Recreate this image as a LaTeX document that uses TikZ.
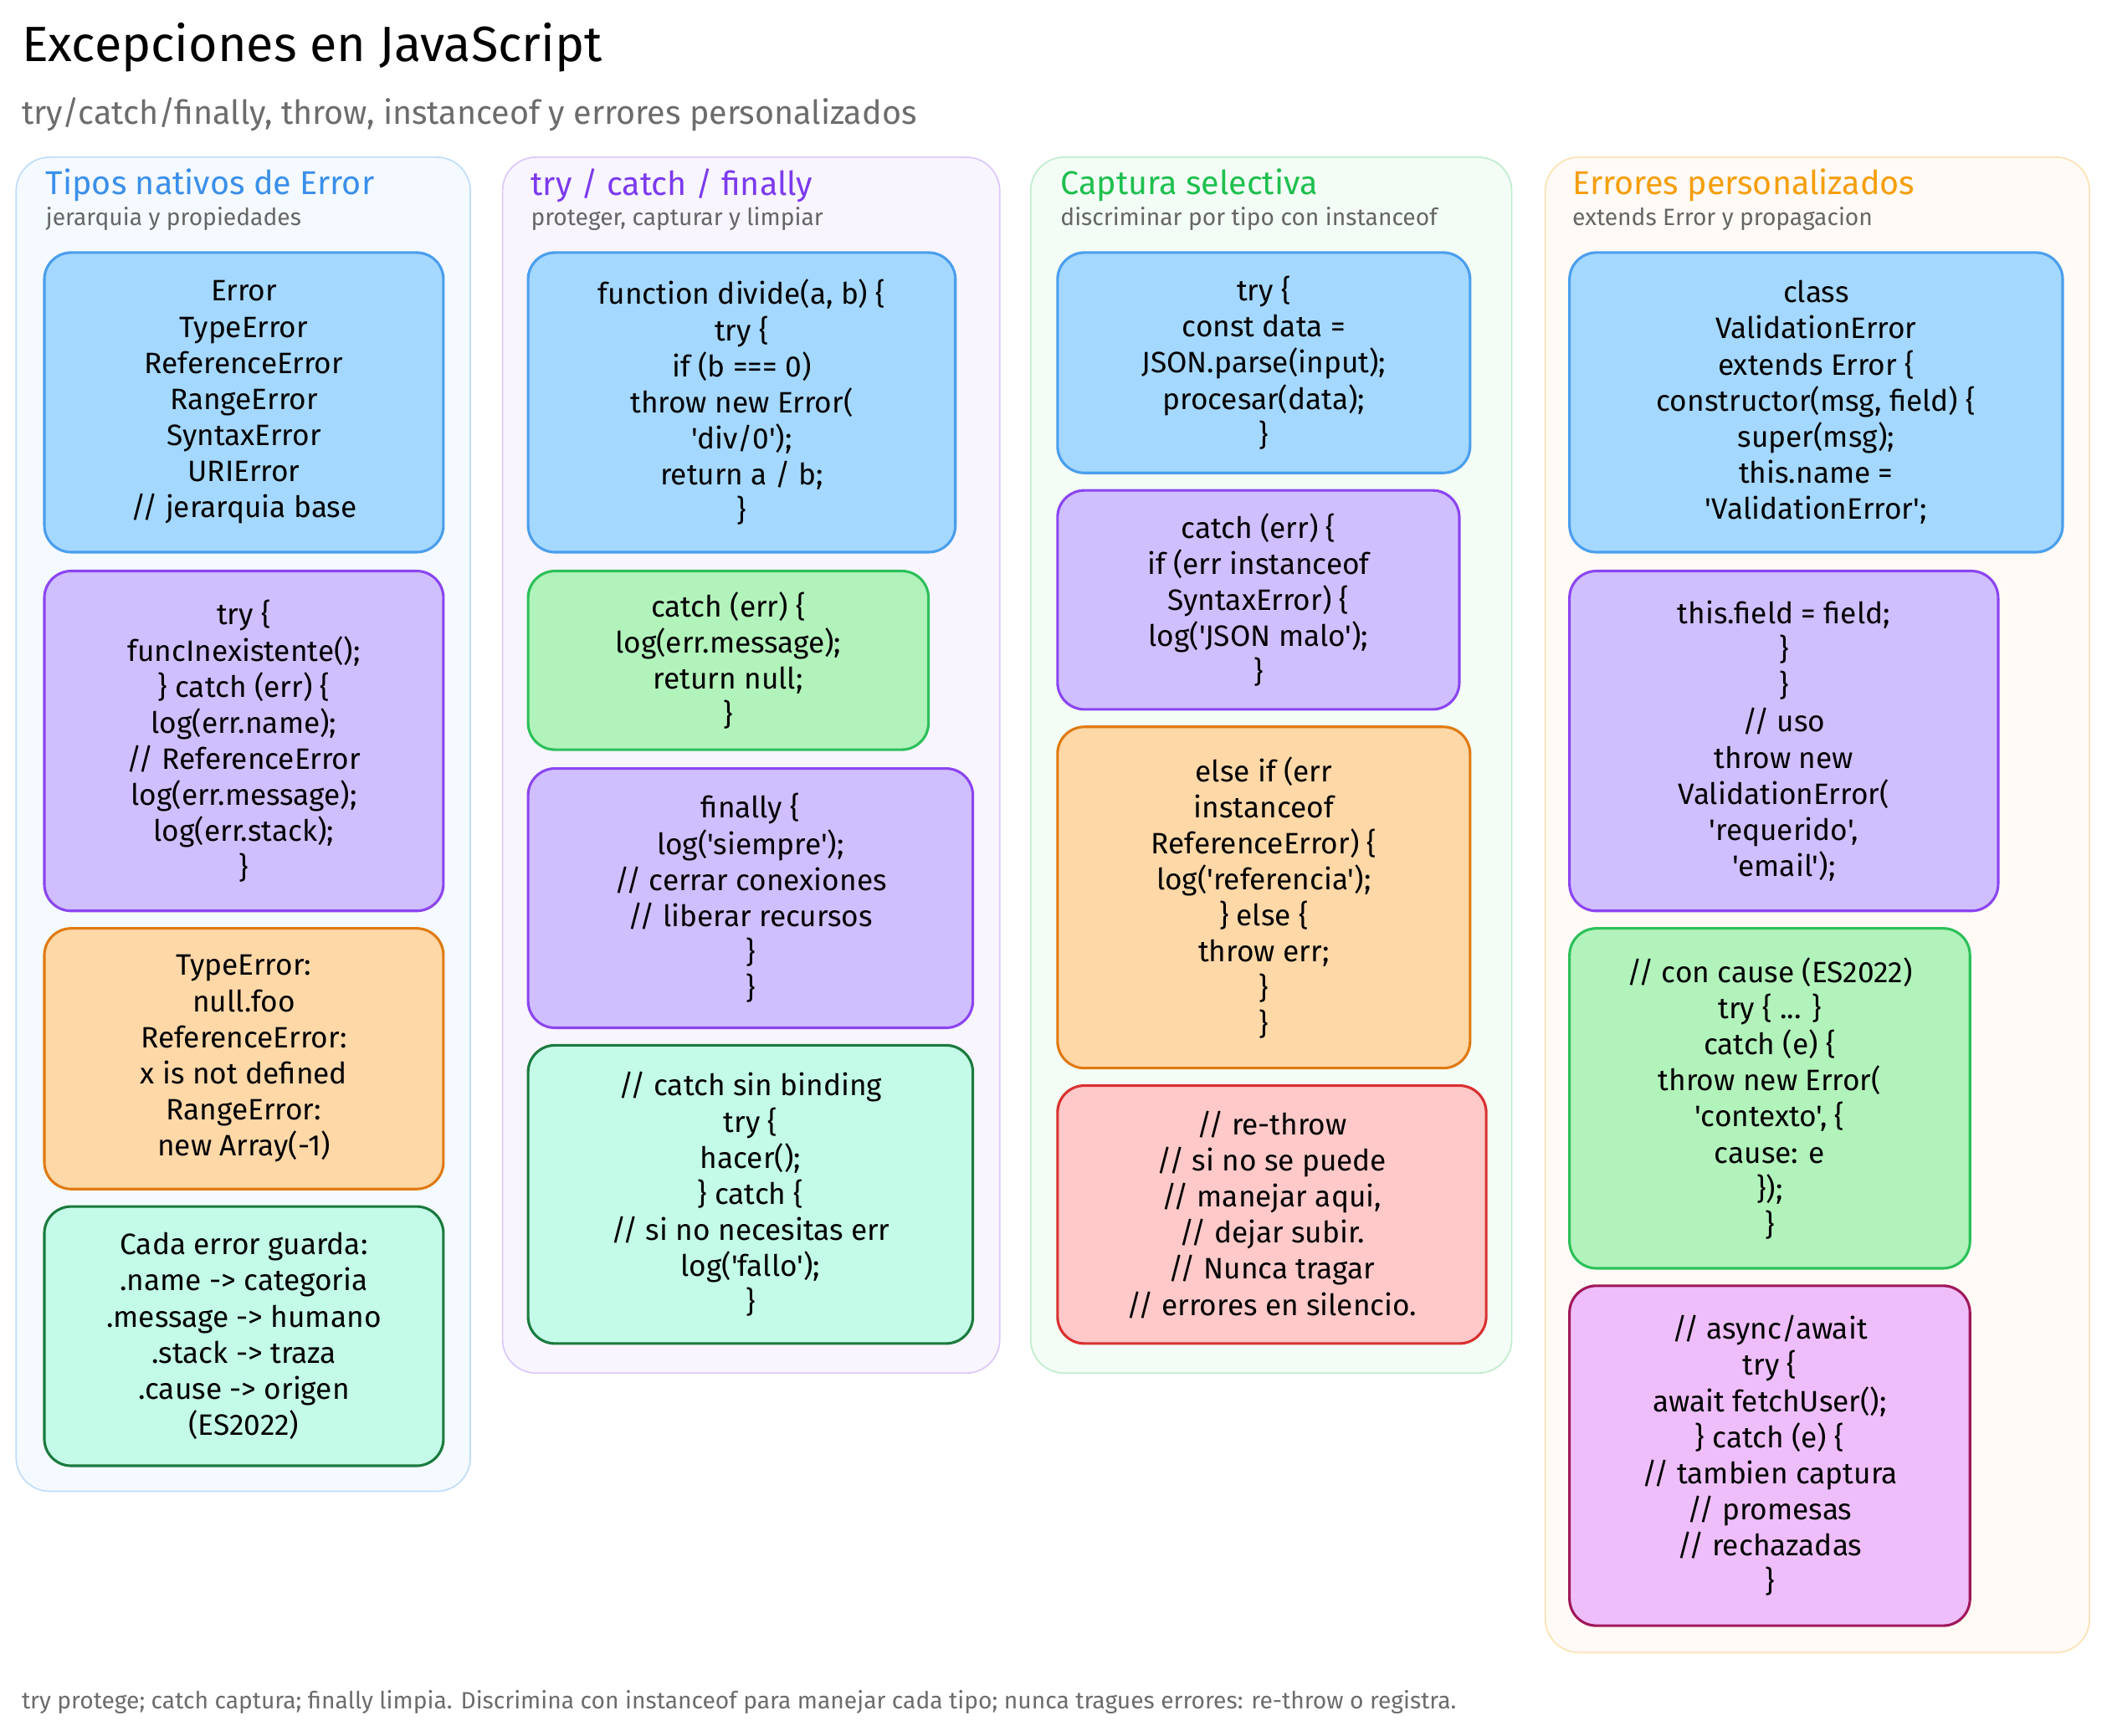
\documentclass[tikz,border=0pt]{standalone}
\usepackage{fontspec}
\setmainfont[Ligatures=TeXOff]{Fira Sans}
\definecolor{bluefill}{HTML}{A5D8FF}\definecolor{blueline}{HTML}{4A9EED}
\definecolor{purpfill}{HTML}{D0BFFF}\definecolor{purpline}{HTML}{8B45F0}
\definecolor{orfill}{HTML}{FFD8A8}\definecolor{orline}{HTML}{E07A10}
\definecolor{tealfill}{HTML}{C3FAE8}\definecolor{tealline}{HTML}{1B7A3E}
\definecolor{grfill}{HTML}{B2F2BB}\definecolor{grline}{HTML}{2CC05A}
\definecolor{redfill}{HTML}{FFC9C9}\definecolor{redline}{HTML}{D93030}
\definecolor{pkfill}{HTML}{EEBEFA}\definecolor{pkline}{HTML}{A0185A}
\definecolor{hblue}{HTML}{3B8FEA}\definecolor{hpurp}{HTML}{7C3AED}
\definecolor{hgreen}{HTML}{1FBF4F}\definecolor{horange}{HTML}{F59E0B}
\tikzset{
  box/.style = {rounded corners=0.4cm, line width=1.1pt},
  code/.style = {align=center, font=\fontsize{12.5}{15.3}\selectfont},
  lane/.style = {rounded corners=0.5cm, line width=0.6pt},
  head/.style = {anchor=west, font=\fontsize{14}{16}\selectfont},
  sub/.style = {anchor=west, text=gray!80!black, font=\fontsize{10}{12}\selectfont}
}
\newcommand{\codebox}[7]{%
  \draw[box, #6] (#2,#3) rectangle (#4,#5);
  \node[code] (#1) at ({(#2+#4)/2},{(#3+#5)/2}) {#7};}
\begin{document}
\begin{tikzpicture}[x=0.02cm, y=-0.02cm]
    \useasboundingbox[fill=white] (0,0) rectangle (1568,1292);
    \node[anchor=west, font=\fontsize{21}{24}\selectfont] (title) at (10,35) {Excepciones en JavaScript};
    \node[anchor=west, text=gray!85!black, font=\fontsize{14}{16}\selectfont] (subtitle) at (10,85) {try/catch/finally, throw, instanceof y errores personalizados};
    % lanes
    \draw[lane, draw=blueline!35, fill=bluefill!12] (12,117) rectangle (350,1110);
    \draw[lane, draw=purpline!30, fill=purpfill!15] (374,117) rectangle (744,1022);
    \draw[lane, draw=grline!30, fill=grfill!15] (767,117) rectangle (1125,1022);
    \draw[lane, draw=horange!30, fill=orfill!12] (1150,117) rectangle (1555,1230);
    \node[head, text=hblue] (h1) at (28,138) {Tipos nativos de Error};
    \node[sub] (s1) at (28,163) {jerarquia y propiedades};
    \node[head, text=hpurp] (h2) at (389,138) {try / catch / finally};
    \node[sub] (s2) at (389,163) {proteger, capturar y limpiar};
    \node[head, text=hgreen] (h3) at (783,138) {Captura selectiva};
    \node[sub] (s3) at (783,163) {discriminar por tipo con instanceof};
    \node[head, text=horange] (h4) at (1164,138) {Errores personalizados};
    \node[sub] (s4) at (1164,163) {extends Error y propagacion};
    % column 1
    \codebox{tipos}{33}{188}{330}{411}{draw=blueline, fill=bluefill}{Error\\TypeError\\ReferenceError\\RangeError\\SyntaxError\\URIError\\// jerarquia base}
    \codebox{props}{33}{425}{330}{678}{draw=purpline, fill=purpfill}{try \{\\funcInexistente();\\\} catch (err) \{\\log(err.name);\\// ReferenceError\\log(err.message);\\log(err.stack);\\\}}
    \codebox{ejemplos}{33}{691}{330}{885}{draw=orline, fill=orfill}{TypeError:\\null.foo\\ReferenceError:\\x is not defined\\RangeError:\\new Array(-1)}
    \codebox{guarda}{33}{898}{330}{1091}{draw=tealline, fill=tealfill}{Cada error guarda:\\.name -> categoria\\.message -> humano\\.stack -> traza\\.cause -> origen\\(ES2022)}
    % column 2
    \codebox{divide}{393}{188}{711}{411}{draw=blueline, fill=bluefill}{function divide(a, b) \{\\try \{\\if (b === 0)\\throw new Error(\\'div/0');\\return a / b;\\\}}
    \codebox{catchnull}{393}{425}{691}{558}{draw=grline, fill=grfill}{catch (err) \{\\log(err.message);\\return null;\\\}}
    \codebox{finally}{393}{572}{724}{765}{draw=purpline, fill=purpfill}{finally \{\\log('siempre');\\// cerrar conexiones\\// liberar recursos\\\}\\\}}
    \codebox{binding}{393}{778}{724}{1000}{draw=tealline, fill=tealfill}{// catch sin binding\\try \{\\hacer();\\\} catch \{\\// si no necesitas err\\log('fallo');\\\}}
    % column 3
    \codebox{parse}{787}{188}{1094}{352}{draw=blueline, fill=bluefill}{try \{\\const data =\\JSON.parse(input);\\procesar(data);\\\}}
    \codebox{syntax}{787}{365}{1086}{528}{draw=purpline, fill=purpfill}{catch (err) \{\\if (err instanceof\\SyntaxError) \{\\log('JSON malo');\\\}}
    \codebox{elseif}{787}{541}{1094}{795}{draw=orline, fill=orfill}{else if (err\\instanceof\\ReferenceError) \{\\log('referencia');\\\} else \{\\throw err;\\\}\\\}}
    \codebox{rethrow}{787}{808}{1106}{1000}{draw=redline, fill=redfill}{// re-throw\\// si no se puede\\// manejar aqui,\\// dejar subir.\\// Nunca tragar\\// errores en silencio.}
    % column 4
    \codebox{clase}{1168}{188}{1535}{411}{draw=blueline, fill=bluefill}{class\\ValidationError\\extends Error \{\\constructor(msg, field) \{\\super(msg);\\this.name =\\'ValidationError';}
    \codebox{field}{1168}{425}{1487}{678}{draw=purpline, fill=purpfill}{this.field = field;\\\}\\\}\\// uso\\throw new\\ValidationError(\\'requerido',\\'email');}
    \codebox{cause}{1168}{691}{1466}{944}{draw=grline, fill=grfill}{// con cause (ES2022)\\try \{ ... \}\\catch (e) \{\\throw new Error(\\'contexto', \{\\cause: e\\\});\\\}}
    \codebox{async}{1168}{957}{1466}{1210}{draw=pkline, fill=pkfill}{// async/await\\try \{\\await fetchUser();\\\} catch (e) \{\\// tambien captura\\// promesas\\// rechazadas\\\}}
    \node[anchor=west, text=gray!85!black, font=\fontsize{10}{12}\selectfont] (footer) at (10,1267) {try protege; catch captura; finally limpia. Discrimina con instanceof para manejar cada tipo; nunca tragues errores: re-throw o registra.};
\end{tikzpicture}
\end{document}
